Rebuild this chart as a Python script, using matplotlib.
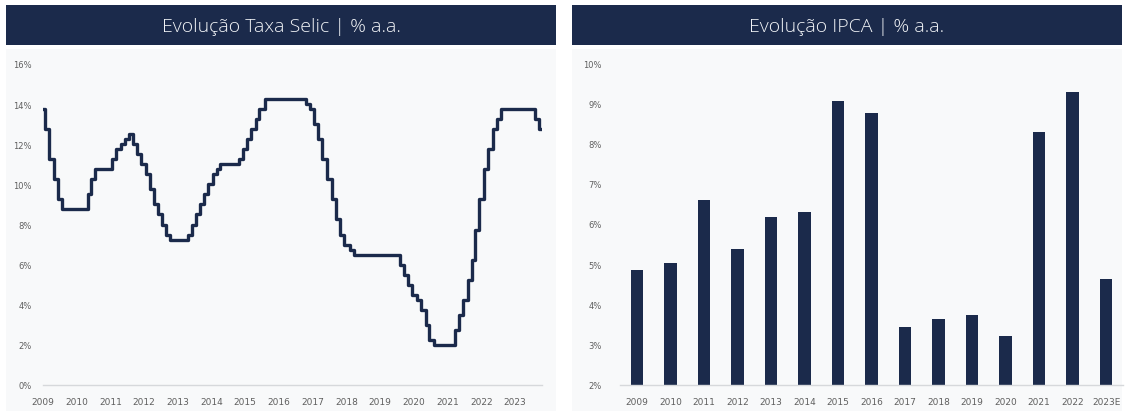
import matplotlib.pyplot as plt
import matplotlib.dates as mdates
import numpy as np
import datetime as dt

# Selic meta: data da decisao do Copom e taxa (% a.a.)
selic_datas = ["2009-01-01", "2009-01-22", "2009-03-12", "2009-04-30", "2009-06-11", "2009-07-23",
               "2010-04-29", "2010-06-10", "2010-07-22",
               "2011-01-20", "2011-03-03", "2011-04-21", "2011-06-09", "2011-07-21", "2011-09-01",
               "2011-10-20", "2011-12-01",
               "2012-01-19", "2012-03-08", "2012-04-19", "2012-05-31", "2012-07-12", "2012-08-30",
               "2012-10-11",
               "2013-04-18", "2013-05-30", "2013-07-11", "2013-08-29", "2013-10-10", "2013-11-28",
               "2014-01-16", "2014-02-27", "2014-04-03", "2014-10-29", "2014-12-04",
               "2015-01-22", "2015-03-05", "2015-04-30", "2015-06-04", "2015-07-30",
               "2016-10-20", "2016-11-30",
               "2017-01-12", "2017-02-23", "2017-04-13", "2017-06-01", "2017-07-27", "2017-09-07",
               "2017-10-26", "2017-12-07",
               "2018-02-08", "2018-03-22",
               "2019-08-01", "2019-09-19", "2019-10-31", "2019-12-12",
               "2020-02-06", "2020-03-19", "2020-05-07", "2020-06-18", "2020-08-06",
               "2021-03-18", "2021-05-06", "2021-06-17", "2021-08-05", "2021-09-23", "2021-10-28",
               "2021-12-09",
               "2022-02-03", "2022-03-17", "2022-05-05", "2022-06-16", "2022-08-04",
               "2023-08-03", "2023-09-21", "2023-10-20"]
selic_taxas = [13.75, 12.75, 11.25, 10.25, 9.25, 8.75,
               9.50, 10.25, 10.75,
               11.25, 11.75, 12.00, 12.25, 12.50, 12.00,
               11.50, 11.00,
               10.50, 9.75, 9.00, 8.50, 8.00, 7.50,
               7.25,
               7.50, 8.00, 8.50, 9.00, 9.50, 10.00,
               10.50, 10.75, 11.00, 11.25, 11.75,
               12.25, 12.75, 13.25, 13.75, 14.25,
               14.00, 13.75,
               13.00, 12.25, 11.25, 10.25, 9.25, 8.25,
               7.50, 7.00,
               6.75, 6.50,
               6.00, 5.50, 5.00, 4.50,
               4.25, 3.75, 3.00, 2.25, 2.00,
               2.75, 3.50, 4.25, 5.25, 6.25, 7.75,
               9.25,
               10.75, 11.75, 12.75, 13.25, 13.75,
               13.25, 12.75, 12.75]

# IPCA anual (% a.a.)
ipca_anos = ["2009", "2010", "2011", "2012", "2013", "2014", "2015", "2016",
             "2017", "2018", "2019", "2020", "2021", "2022", "2023E"]
ipca_valores = [4.86, 5.03, 6.60, 5.38, 6.17, 6.30, 9.06, 8.75,
                3.44, 3.65, 3.75, 3.21, 8.29, 9.28, 4.64]

azul = "#1b2a4b"
cinza_txt = "#5f5f5f"
fundo = "#f8f9fa"

W, H = 1126, 414
fig = plt.figure(figsize=(W / 100, H / 100), dpi=100)
fig.patch.set_facecolor("white")


def px(x0, y0, x1, y1):
    # caixa em pixels (origem no topo) -> coordenadas da figura
    return [x0 / W, 1 - y1 / H, (x1 - x0) / W, (y1 - y0) / H]


def faixa_titulo(x0, x1, texto):
    bar = fig.add_axes(px(x0, 6, x1, 46))
    bar.set_facecolor(azul)
    bar.set_xticks([])
    bar.set_yticks([])
    for s in bar.spines.values():
        s.set_visible(False)
    bar.text(0.5, 0.48, texto, color="#f2f4f7", fontsize=14, family="Open Sans",
             fontweight="light", ha="center", va="center", transform=bar.transAxes)


def painel(x0, x1):
    bg = fig.add_axes(px(x0, 50, x1, 412), zorder=-1)
    bg.set_facecolor(fundo)
    bg.set_xticks([])
    bg.set_yticks([])
    for s in bg.spines.values():
        s.set_visible(False)


def estilo(ax):
    ax.set_facecolor("none")
    for s in ["top", "right", "left"]:
        ax.spines[s].set_visible(False)
    ax.spines["bottom"].set_color("#d6d8db")
    ax.spines["bottom"].set_linewidth(1.0)
    ax.tick_params(length=0, labelsize=6, labelcolor=cinza_txt)
    ax.tick_params(axis="x", pad=9, labelsize=6.5)
    ax.tick_params(axis="y", pad=8)


# ---- Selic ----
painel(6, 556)
faixa_titulo(6, 556, "Evolução Taxa Selic | % a.a.")

ax1 = fig.add_axes(px(43, 65, 542, 386))
estilo(ax1)
datas = [dt.datetime.strptime(d, "%Y-%m-%d") for d in selic_datas]
ax1.plot(datas, selic_taxas, drawstyle="steps-post", color=azul, lw=2.4)
ax1.set_ylim(0, 16)
ax1.set_yticks(np.arange(0, 17, 2))
ax1.set_yticklabels([f"{v}%" for v in range(0, 17, 2)])
ax1.set_xlim(dt.datetime(2009, 1, 1), dt.datetime(2023, 10, 20))
ax1.xaxis.set_major_locator(mdates.YearLocator())
ax1.xaxis.set_major_formatter(mdates.DateFormatter("%Y"))

# ---- IPCA ----
painel(572, 1122)
faixa_titulo(572, 1122, "Evolução IPCA | % a.a.")

ax2 = fig.add_axes(px(620, 64, 1123, 386))
estilo(ax2)
x = np.arange(len(ipca_anos))
ax2.bar(x, np.array(ipca_valores) - 2, bottom=2, width=0.37, color=azul)
ax2.set_ylim(2, 10)
ax2.set_xlim(-0.5, len(ipca_anos) - 0.5)
ax2.set_yticks(np.arange(2, 11, 1))
ax2.set_yticklabels([f"{v}%" for v in range(2, 11)])
ax2.set_xticks(x)
ax2.set_xticklabels(ipca_anos)
ax2.tick_params(axis="y", pad=13)

fig.savefig("out.png", dpi=100)
